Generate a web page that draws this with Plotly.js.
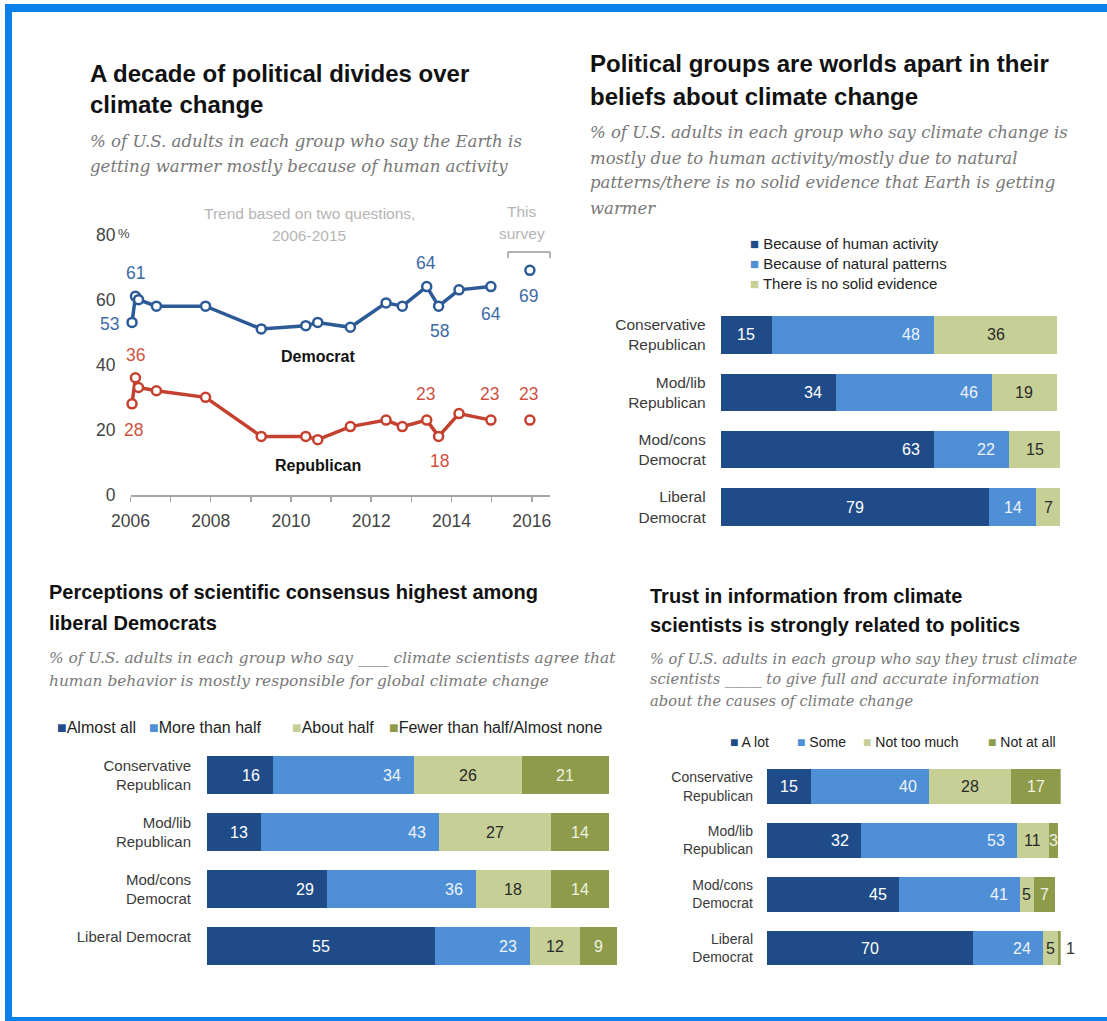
<!DOCTYPE html>
<html><head><meta charset="utf-8">
<script src="https://cdn.plot.ly/plotly-3.0.1.min.js"></script>
<style>html,body{margin:0;padding:0;background:#fff}#chart{width:1107px;height:1021px}</style>
</head><body><div id="chart"></div>
<script>
// ---------- DATA ----------
const surveyDates = ['2006-01-15','2006-02-15','2006-03-15','2006-08-25','2007-11-15','2009-04-05','2010-05-15','2010-09-01','2011-06-25','2012-05-15','2012-10-10','2013-05-20','2013-09-05','2014-03-10','2014-12-25'];
const demShare = [53, 61, 60, 58, 58, 51, 52, 53, 51.5, 59, 58, 64, 58, 63, 64];
const repShare = [28, 36, 33, 32, 30, 18, 18, 17, 21, 23, 21, 23, 18, 25, 23];
const thisSurveyDate = ['2015-12-15'];
const demThisSurvey = [69];
const repThisSurvey = [23];
const yTickVals = [0, 20, 40, 60, 80];
const yTickText = ['0', '20', '40', '60', '80'];

const beliefGroups = ['Conservative<br>Republican', 'Mod/lib<br>Republican', 'Mod/cons<br>Democrat', 'Liberal<br>Democrat'];
const beliefNames = ['Because of human activity', 'Because of natural patterns', 'There is no solid evidence'];
const beliefHuman = [15, 34, 63, 79];
const beliefNatural = [48, 46, 22, 14];
const beliefNoEvidence = [36, 19, 15, 7];

const consensusGroups = ['Conservative<br>Republican', 'Mod/lib<br>Republican', 'Mod/cons<br>Democrat', 'Liberal Democrat<br> '];
const consensusNames = ['Almost all', 'More than half', 'About half', 'Fewer than half/Almost none'];
const consensusAlmostAll = [16, 13, 29, 55];
const consensusMoreThanHalf = [34, 43, 36, 23];
const consensusAboutHalf = [26, 27, 18, 12];
const consensusFewer = [21, 14, 14, 9];

const trustGroups = ['Conservative<br>Republican', 'Mod/lib<br>Republican', 'Mod/cons<br>Democrat', 'Liberal<br>Democrat'];
const trustNames = ['A lot', 'Some', 'Not too much', 'Not at all'];
const trustALot = [15, 32, 45, 70];
const trustSome = [40, 53, 41, 24];
const trustNotTooMuch = [28, 11, 5, 5];
const trustNotAtAll = [17, 3, 7, 1];

// ---------- STYLE ----------
const W = 1107, H = 1021;
const px = v => v / W;
const py = v => 1 - v / H;
const FONT = "'Liberation Sans', Arial, sans-serif";
const TFONT = "'Liberation Sans Narrow', 'Liberation Sans', Arial, sans-serif";
const SFONT = "'DejaVu Serif', Georgia, serif";
const DEM = '#2c5a97', REP = '#c5412f';
const DEM_T = '#3b6aa5', REP_T = '#d0513f';
const DARK = '#1f4c88', LIGHT = '#4f8fd6', KHAKI = '#c5cf96', OLIVE = '#8e9b4a';
const TXT_ON = ['#ffffff', '#eef4fb', '#2a2a2a', '#f0f2e0'];
// label alignment per series/row: e = end (right), c = centre, o = outside
const beliefAlign = [['c','e','e','c'], ['e','e','e','c'], ['c','c','c','c']];
const consensusAlign = [['e','e','e','c'], ['e','e','e','e'], ['c','c','c','c'], ['c','c','c','c']];
const trustAlign = [['c','e','e','c'], ['e','e','e','e'], ['c','c','c','c'], ['c','c','c','o']];

const annotations = [];
const shapes = [];
function txt(x, y, text, size, color, family, anchor) {
  annotations.push({xref:'paper', yref:'paper', x:px(x), y:py(y), text:text, showarrow:false,
    xanchor: anchor || 'left', yanchor:'middle', font:{size:size, color:color, family:family || FONT}});
}
function lines(x, ys, arr, size, color, family, wrap) {
  arr.forEach((t, i) => txt(x, ys[i], wrap(t), size, color, family));
}
const B = t => '<b>' + t + '</b>';
const I = t => '<i>' + t + '</i>';

// ---------- TITLES ----------
lines(88, [73, 104], ['A decade of political divides over', 'climate change'], 24, '#111', TFONT, B);
lines(88, [142, 166], ['% of U.S. adults in each group who say the Earth is', 'getting warmer mostly because of human activity'], 16.6, '#787878', SFONT, I);
lines(588, [133, 158, 183, 208], ['% of U.S. adults in each group who say climate change is', 'mostly due to human activity/mostly due to natural', 'patterns/there is no solid evidence that Earth is getting', 'warmer'], 16.5, '#787878', SFONT, I);
lines(588, [63, 96], ['Political groups are worlds apart in their', 'beliefs about climate change'], 24, '#111', TFONT, B);
lines(47, [592, 623], ['Perceptions of scientific consensus highest among', 'liberal Democrats'], 20, '#111', FONT, B);
lines(47, [658, 681], ['% of U.S. adults in each group who say ____ climate scientists agree that', 'human behavior is mostly responsible for global climate change'], 15.4, '#787878', SFONT, I);
lines(648, [596, 625], ['Trust in information from climate', 'scientists is strongly related to politics'], 20, '#111', FONT, B);
lines(648, [658, 679, 700], ['% of U.S. adults in each group who say they trust climate', 'scientists _____ to give full and accurate information', 'about the causes of climate change'], 14.7, '#787878', SFONT, I);

// ---------- LINE CHART ----------
txt(309, 213, 'Trend based on two questions,', 15.5, '#b5b5b5', FONT, 'center');
txt(309, 235, '2006-2015', 15.5, '#b5b5b5', FONT, 'center');
txt(522, 211, 'This', 15.5, '#b5b5b5', FONT, 'center');
txt(522, 233, 'survey', 15.5, '#b5b5b5', FONT, 'center');
[[508,252,550,252],[508,252,508,258],[550,252,550,258]].forEach(s => shapes.push({type:'line', xref:'paper', yref:'paper',
  x0:px(s[0]), y0:py(s[1]), x1:px(s[2]), y1:py(s[3]), line:{color:'#9a9a9a', width:1.5}}));
txt(116, 233, '%', 13, '#444', FONT, 'left');
annotations.push({xref:'x', yref:'y', x:'2010-09-01', y:53, yshift:-34, text:'<b>Democrat</b>', showarrow:false, font:{size:16, color:'#111', family:FONT}, xanchor:'center'});
annotations.push({xref:'x', yref:'y', x:'2010-09-01', y:17, yshift:-26, text:'<b>Republican</b>', showarrow:false, font:{size:16, color:'#111', family:FONT}, xanchor:'center'});

function pointLabel(dates, vals, i, dx, dy, color) {
  annotations.push({xref:'x', yref:'y', x:dates[i], y:vals[i], xshift:dx, yshift:-dy, text:String(vals[i]),
    showarrow:false, font:{size:17.5, color:color, family:FONT}, xanchor:'center', yanchor:'middle'});
}
pointLabel(surveyDates, demShare, 0, -23, 2, DEM_T);
pointLabel(surveyDates, demShare, 1, 0, -23, DEM_T);
pointLabel(surveyDates, demShare, 11, -1, -24, DEM_T);
pointLabel(surveyDates, demShare, 12, 1, 25, DEM_T);
pointLabel(surveyDates, demShare, 14, 0, 27, DEM_T);
pointLabel(thisSurveyDate, demThisSurvey, 0, -1, 26, DEM_T);
pointLabel(surveyDates, repShare, 0, 1, 26, REP_T);
pointLabel(surveyDates, repShare, 1, 0, -23, REP_T);
pointLabel(surveyDates, repShare, 11, -1, -26, REP_T);
pointLabel(surveyDates, repShare, 12, 1, 25, REP_T);
pointLabel(surveyDates, repShare, 14, -1, -26, REP_T);
pointLabel(thisSurveyDate, repThisSurvey, 0, -1, -26, REP_T);

const mk = c => ({symbol:'circle', size:9, color:'#ffffff', line:{color:c, width:2.5}});
const traces = [
  {type:'scatter', mode:'lines+markers', x:surveyDates, y:demShare, line:{color:DEM, width:3.5}, marker:mk(DEM), cliponaxis:false, hoverinfo:'skip', xaxis:'x', yaxis:'y'},
  {type:'scatter', mode:'lines+markers', x:surveyDates, y:repShare, line:{color:REP, width:3.5}, marker:mk(REP), cliponaxis:false, hoverinfo:'skip', xaxis:'x', yaxis:'y'},
  {type:'scatter', mode:'markers', x:thisSurveyDate, y:demThisSurvey, marker:mk(DEM), cliponaxis:false, hoverinfo:'skip', xaxis:'x', yaxis:'y'},
  {type:'scatter', mode:'markers', x:thisSurveyDate, y:repThisSurvey, marker:mk(REP), cliponaxis:false, hoverinfo:'skip', xaxis:'x', yaxis:'y'}
];

// ---------- BAR CHARTS ----------
function addBars(cats, series, colors, aligns, xa, ya, pad) {
  series.forEach((vals, i) => {
    traces.push({type:'bar', orientation:'h', y:cats, x:vals, marker:{color:colors[i], line:{width:0}},
      hoverinfo:'skip', xaxis:xa, yaxis:ya});
  });
  cats.forEach((c, r) => {
    let start = 0;
    series.forEach((vals, i) => {
      const v = vals[r], a = aligns[i][r];
      const ann = {xref:xa, yref:ya, y:c, text:String(v), showarrow:false, yanchor:'middle',
        font:{size:16, color:TXT_ON[i], family:FONT}};
      if (a === 'e') { ann.x = start + v; ann.xanchor = 'right'; ann.xshift = -pad; }
      else if (a === 'o') { ann.x = start + v; ann.xanchor = 'left'; ann.xshift = 3; ann.font.color = '#333'; }
      else { ann.x = start + v / 2; ann.xanchor = 'center'; }
      annotations.push(ann);
      start += v;
    });
  });
}
addBars(beliefGroups, [beliefHuman, beliefNatural, beliefNoEvidence], [DARK, LIGHT, KHAKI], beliefAlign, 'x2', 'y2', 12);
addBars(consensusGroups, [consensusAlmostAll, consensusMoreThanHalf, consensusAboutHalf, consensusFewer], [DARK, LIGHT, KHAKI, OLIVE], consensusAlign, 'x3', 'y3', 11);
addBars(trustGroups, [trustALot, trustSome, trustNotTooMuch, trustNotAtAll], [DARK, LIGHT, KHAKI, OLIVE], trustAlign, 'x4', 'y4', 10);

// legends
const sq = (c, t) => '<span style="color:' + c + '">■</span> ' + t;
const sq2 = (c, t) => '<span style="color:' + c + '">■</span>' + t;
[244, 264, 284].forEach((y, i) => txt(748, y, sq([DARK, LIGHT, KHAKI][i], beliefNames[i]), 15, '#222'));
[55, 147, 290, 387].forEach((x, i) => txt(x, 727, sq2([DARK, LIGHT, KHAKI, OLIVE][i], consensusNames[i]), 16, '#222'));
[728, 795, 861, 986].forEach((x, i) => txt(x, 742, sq([DARK, LIGHT, KHAKI, OLIVE][i], trustNames[i]), 14, '#222'));

// ---------- FRAME ----------
const FRAME = '#0b80ea';
[[5,4,1107,12],[5,4,12,1021],[5,1017,1107,1021]].forEach(r => shapes.push({type:'rect', xref:'paper', yref:'paper',
  x0:px(r[0]), x1:px(r[2]), y0:py(r[3]), y1:py(r[1]), fillcolor:FRAME, line:{width:0}, layer:'above'}));

const catAxis = (dom, cats, size, standoff) => ({domain:dom, type:'category', categoryarray:cats, range:[3.5, -0.5],
  showgrid:false, showline:false, zeroline:false, ticks:'', tickfont:{size:size, color:'#3a3a3a', family:FONT},
  ticklabelstandoff:standoff, fixedrange:true});
const valAxis = (dom, anchor) => ({domain:dom, range:[0, 100], visible:false, fixedrange:true, anchor:anchor});

const layout = {
  width:W, height:H, margin:{l:0, r:0, t:0, b:0}, paper_bgcolor:'#ffffff', plot_bgcolor:'rgba(0,0,0,0)',
  showlegend:false, barmode:'stack', bargap:0.35, font:{family:FONT},
  xaxis:{domain:[px(130.5), px(550)], type:'date', range:['2006-01-01', '2016-06-15'], anchor:'y',
    showgrid:false, zeroline:false, showline:true, linecolor:'#a5a5a5', linewidth:1.5,
    ticks:'outside', ticklen:5, tickcolor:'#a5a5a5', tickwidth:1.5, dtick:'M24', tick0:'2006-01-01', tickformat:'%Y',
    minor:{dtick:'M12', tick0:'2006-01-01', ticks:'outside', ticklen:5, tickcolor:'#a5a5a5', tickwidth:1.5, showgrid:false},
    tickfont:{size:17.5, color:'#444', family:FONT}, ticklabelstandoff:4, fixedrange:true},
  yaxis:{domain:[py(495), py(234.5)], range:[0, 80], anchor:'x', tickvals:yTickVals, ticktext:yTickText,
    showgrid:false, zeroline:false, showline:false, ticks:'', tickfont:{size:17.5, color:'#444', family:FONT},
    ticklabelstandoff:14, fixedrange:true},
  xaxis2:valAxis([px(720.7), px(1060)], 'y2'),
  yaxis2:Object.assign(catAxis([py(535.7), py(306.3)], beliefGroups, 15.5, 14), {anchor:'x2'}),
  xaxis3:valAxis([px(207), px(621)], 'y3'),
  yaxis3:Object.assign(catAxis([py(974.5), py(746.5)], consensusGroups, 15, 15), {anchor:'x3'}),
  xaxis4:valAxis([px(767), px(1060.7)], 'y4'),
  yaxis4:Object.assign(catAxis([py(974.9), py(759.8)], trustGroups, 14, 13), {anchor:'x4'}),
  annotations:annotations, shapes:shapes
};
Plotly.newPlot('chart', traces, layout, {displayModeBar:false, staticPlot:true});
</script></body></html>
